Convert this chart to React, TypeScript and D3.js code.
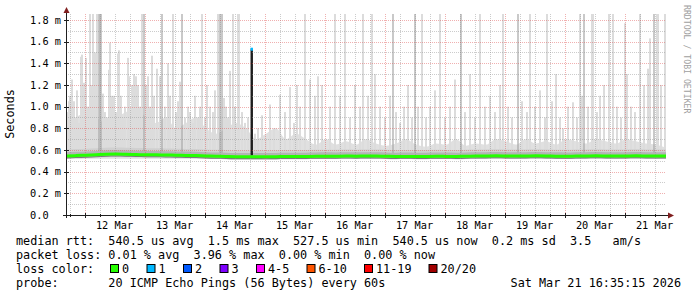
import React from "react";
import * as d3 from "d3";

// ---- data ----
const startTime = new Date(2026, 2, 11, 16, 35, 15);
const endTime = new Date(2026, 2, 21, 16, 35, 15);

const dayLabels = ["12 Mar", "13 Mar", "14 Mar", "15 Mar", "16 Mar", "17 Mar", "18 Mar", "19 Mar", "20 Mar", "21 Mar"];
const yTicks = [0, 0.2, 0.4, 0.6, 0.8, 1.0, 1.2, 1.4, 1.6, 1.8];
const yTickLabels = ["0.0", "0.2 m", "0.4 m", "0.6 m", "0.8 m", "1.0 m", "1.2 m", "1.4 m", "1.6 m", "1.8 m"];

// light smoke envelope (max ping, ms), every 4 hours from graph start
const envelopeMax = [
  0.85, 0.9, 0.95, 0.9, 0.85, 0.9, 0.95, 1.0, 0.9, 0.85, 0.9, 0.8, 0.85, 0.9, 0.8, 0.75, 0.8, 0.85, 0.8,
  0.7, 0.75, 0.8, 0.7, 0.75, 0.7, 0.65, 0.7, 0.65, 0.68, 0.65, 0.7, 0.66, 0.64, 0.66, 0.7, 0.65, 0.63, 0.66,
  0.65, 0.7, 0.64, 0.66, 0.65, 0.7, 0.68, 0.65, 0.7, 0.66, 0.68, 0.65, 0.7, 0.68, 0.66, 0.7, 0.68, 0.66, 0.7,
  0.68, 0.66, 0.65, 0.62,
];

// light smoke spikes: [hours since start, max rtt ms]
const lightSpikes: [number, number][] = [
  [0.4, 0.95], [1.2, 1.05], [1.6, 1.1], [2.4, 1.25], [3.2, 1.05], [4.0, 0.9], [4.4, 1.15], [5.2, 0.85], [6.0, 1.46], [6.4, 1.48],
  [7.2, 1.22], [8.0, 1.45], [8.8, 1.0], [9.6, 1.86], [10.0, 1.2], [10.8, 1.86], [11.6, 1.5], [12.4, 1.86], [13.6, 1.86], [14.8, 1.12],
  [15.6, 0.95], [16.4, 0.9], [17.2, 1.34], [17.6, 1.59], [18.4, 1.1], [19.2, 1.1], [20.0, 0.95], [20.8, 1.49], [21.2, 1.52], [22.0, 1.1],
  [22.8, 0.9], [23.6, 1.0], [24.8, 1.45], [25.2, 1.28], [26.4, 1.2], [27.2, 1.3], [28.0, 1.28], [28.8, 1.2], [29.6, 1.0], [30.4, 1.86],
  [32.0, 1.2], [32.8, 1.28], [33.6, 1.0], [34.4, 1.47], [35.2, 1.1], [36.4, 1.35], [37.6, 1.28], [39.6, 1.0], [40.8, 1.4], [41.6, 1.1],
  [42.8, 1.86], [44.0, 0.95], [44.8, 1.05], [45.6, 1.23], [47.6, 0.9], [48.8, 1.0], [49.6, 0.95], [50.8, 0.85], [51.6, 1.1], [52.8, 0.9],
  [53.6, 1.0], [54.4, 1.86], [55.6, 0.9], [56.4, 1.2], [57.6, 1.0], [58.8, 0.95], [59.6, 1.15], [60.8, 1.86], [63.2, 1.08], [64.0, 1.0],
  [64.8, 0.9], [65.6, 1.33], [66.8, 1.86], [67.6, 1.0], [68.8, 1.86], [69.2, 1.86], [70.4, 0.95], [71.6, 0.85], [72.8, 0.9],
  [75.6, 0.75], [76.8, 0.8], [78.4, 0.92], [80.0, 0.7], [81.6, 1.02], [83.2, 0.8], [85.6, 1.11], [87.6, 0.95], [89.6, 1.18], [91.2, 0.85],
  [92.4, 1.2], [93.6, 1.0], [95.6, 1.86], [97.6, 1.25], [99.6, 1.1], [100.8, 1.28], [102.4, 1.2], [105.6, 1.0], [107.6, 1.86], [109.6, 1.1],
  [111.6, 1.86], [113.6, 0.9], [115.6, 1.2], [117.6, 1.0], [118.8, 1.86], [120.8, 1.1], [122.4, 1.86], [123.6, 1.3], [125.6, 1.0], [127.6, 0.9],
  [129.6, 1.1], [132.0, 0.95], [133.6, 0.85], [135.2, 1.0], [136.8, 1.2], [138.4, 0.9], [140.8, 1.0], [142.4, 1.86], [144.0, 0.9], [145.6, 1.0],
  [147.6, 1.15], [149.6, 1.86], [151.6, 0.9], [153.6, 1.0], [155.6, 1.25], [159.6, 0.95], [161.6, 1.3], [163.6, 0.9], [165.6, 1.86], [167.6, 1.0],
  [169.6, 1.1], [171.6, 0.95], [173.6, 1.2], [174.8, 1.86], [176.8, 1.0], [178.4, 0.9], [182.4, 1.05], [184.4, 0.95], [185.6, 1.86], [187.6, 1.0],
  [189.6, 1.15], [191.6, 0.9], [192.4, 1.86], [194.4, 1.05], [196.0, 1.3], [197.6, 0.9], [198.8, 0.8], [200.8, 1.0], [202.8, 1.04], [204.4, 0.9],
  [205.6, 1.86], [206.4, 1.1], [208.8, 1.0], [210.4, 1.86], [210.8, 1.86], [212.4, 0.95], [213.6, 1.1], [215.2, 1.2], [217.2, 1.86], [218.8, 1.86],
  [220.4, 1.0], [222.0, 0.9], [223.6, 1.77], [224.4, 1.3], [226.0, 1.0], [227.6, 0.95], [229.6, 1.86], [231.2, 1.2], [232.8, 1.35], [233.6, 1.63],
  [236.4, 1.86], [236.8, 1.86], [238.0, 1.2], [239.6, 1.86],
];

// darker smoke spikes (many pings high)
const darkSpikes: [number, number][] = [
  [13.2, 1.86], [14.0, 1.86], [31.2, 1.86], [38.4, 1.86], [46.4, 1.86], [61.6, 1.86], [62.4, 1.86],
  [130.8, 1.86], [139.6, 1.86], [158.0, 1.86], [180.8, 1.86], [207.2, 1.86], [235.2, 1.86],
];

// all-pings-high event (median jumped, 1 packet lost)
const blackSpike: [number, number] = [74.3, 1.53];

// median rtt (ms), every 4 hours
const medianRtt = [
  0.545, 0.548, 0.552, 0.556, 0.56, 0.562, 0.56, 0.558, 0.556, 0.555, 0.554, 0.552, 0.55, 0.548, 0.545, 0.542,
  0.54, 0.538, 0.538, 0.538, 0.537, 0.538, 0.54, 0.539, 0.54, 0.542, 0.543, 0.542, 0.544, 0.543, 0.545, 0.544,
  0.542, 0.54, 0.541, 0.539, 0.54, 0.542, 0.541, 0.54, 0.542, 0.544, 0.545, 0.546, 0.545, 0.544, 0.545, 0.546,
  0.545, 0.543, 0.542, 0.544, 0.545, 0.546, 0.545, 0.544, 0.545, 0.546, 0.545, 0.544, 0.545,
];

const lossLabels = ["0", "1", "2", "3", "4-5", "6-10", "11-19", "20/20"];
const lossColors = ["#26ff00", "#00b8ff", "#0059ff", "#7e00ff", "#ff00ff", "#ff5500", "#ff0000", "#a10000"];

const legendLines = [
  "median rtt:  540.5 us avg  1.5 ms max  527.5 us min  540.5 us now  0.2 ms sd  3.5   am/s",
  "packet loss: 0.01 % avg  3.96 % max  0.00 % min  0.00 % now",
];
const probeText = "probe:       20 ICMP Echo Pings (56 Bytes) every 60s";
const dateText = "Sat Mar 21 16:35:15 2026";

// ---- layout ----
const W = 697;
const H = 297;
const X0 = 66;
const X1 = 666;
const Y0 = 215;
const YTOP = 14;
const MONO = "'DejaVu Sans Mono', 'Liberation Mono', monospace";

export default function App() {
  const x = d3.scaleTime().domain([startTime, endTime]).range([X0, X1]);
  const y = d3.scaleLinear().domain([0, 1.855]).range([Y0, YTOP]);
  const hx = (h: number) => x(new Date(startTime.getTime() + h * 3600e3));

  const envArea = d3
    .area<number>()
    .x((_, i) => hx(i * 4))
    .y0(y(0.52))
    .y1((d) => y(d))
    .curve(d3.curveMonotoneX);

  const medLine = d3
    .line<number>()
    .x((_, i) => hx(i * 4))
    .y((d) => y(d))
    .curve(d3.curveMonotoneX);

  const bandArea = (lo: number, hi: number) =>
    d3
      .area<number>()
      .x((_, i) => hx(i * 4))
      .y0((d) => y(d - (0.545 - lo)))
      .y1((d) => y(d + (hi - 0.545)))
      .curve(d3.curveMonotoneX)(medianRtt) as string;

  const days = d3.timeDay.range(d3.timeDay.ceil(startTime), endTime);
  const sixHours = d3.timeHour.every(6)!.range(startTime, endTime).filter((t) => t.getHours() !== 0);
  const minorY = d3.range(0.1, 1.8, 0.2);

  const lossBoxX = [111, 147.5, 184, 220.5, 257, 307.5, 365, 429.5];

  return (
    <svg width={W} height={H} style={{ display: "block", position: "absolute", left: 0, top: 0, background: "#fff" }}>
      <defs>
        <clipPath id="plot">
          <rect x={X0} y={YTOP} width={X1 - X0} height={Y0 - YTOP} />
        </clipPath>
      </defs>
      <rect x={0} y={0} width={W} height={H} fill="#fff" />
      <g clipPath="url(#plot)">
        <path d={envArea(envelopeMax) as string} fill="#e0e0e0" />
        {lightSpikes.map(([h, v], i) => (
          <rect key={"l" + i} x={hx(h) - 1} width={2} y={y(v)} height={y(0.55) - y(v)} fill="#dcdcdc" />
        ))}
        <path d={bandArea(0.52, 0.605)} fill="#d0d0d0" />
        {darkSpikes.map(([h, v], i) => (
          <rect key={"d" + i} x={hx(h) - 0.6} width={1.2} y={y(v)} height={y(0.55) - y(v)} fill="#a6a6a6" />
        ))}
        <path d={bandArea(0.525, 0.58)} fill="#b4b4b4" />
        <path d={bandArea(0.522, 0.532)} fill="#7a7a7a" />
        <rect x={hx(blackSpike[0]) - 1.2} width={2.4} y={y(blackSpike[1])} height={y(0.55) - y(blackSpike[1])} fill="#1e1e1e" />
      </g>
      {/* grid */}
      <g fill="none" strokeWidth={1} strokeDasharray="1,1">
        {minorY.map((v, i) => (
          <line key={"hy" + i} x1={X0} x2={X1} y1={Math.round(y(v)) + 0.5} y2={Math.round(y(v)) + 0.5} stroke="#8f8f8f" strokeOpacity={0.45} />
        ))}
        {sixHours.map((t, i) => (
          <line key={"vx" + i} x1={Math.round(x(t)) + 0.5} x2={Math.round(x(t)) + 0.5} y1={YTOP} y2={Y0} stroke="#8f8f8f" strokeOpacity={0.45} />
        ))}
        {yTicks.slice(1).map((v, i) => (
          <line key={"my" + i} x1={X0} x2={X1} y1={Math.round(y(v)) + 0.5} y2={Math.round(y(v)) + 0.5} stroke="#de4f4f" strokeOpacity={0.45} />
        ))}
        {days.map((t, i) => (
          <line key={"mx" + i} x1={Math.round(x(t)) + 0.5} x2={Math.round(x(t)) + 0.5} y1={YTOP} y2={Y0} stroke="#de4f4f" strokeOpacity={0.45} />
        ))}
      </g>
      {/* median */}
      <path d={medLine(medianRtt) as string} fill="none" stroke={lossColors[0]} strokeWidth={3} />
      <rect x={hx(blackSpike[0]) - 1.2} width={2.4} y={y(blackSpike[1]) - 1.5} height={3} fill={lossColors[1]} />
      {/* axes */}
      <line x1={63} x2={669} y1={Y0 + 0.5} y2={Y0 + 0.5} stroke="#1f1f1f" strokeWidth={1} />
      <line x1={X0 + 0.5} x2={X0 + 0.5} y1={Y0 + 3} y2={11} stroke="#1f1f1f" strokeWidth={1} />
      {days.map((t, i) => (
        <line key={"tk" + i} x1={Math.round(x(t)) + 0.5} x2={Math.round(x(t)) + 0.5} y1={Y0 - 2} y2={Y0 + 3} stroke="#1f1f1f" />
      ))}
      {sixHours.map((t, i) => (
        <line key={"tm" + i} x1={Math.round(x(t)) + 0.5} x2={Math.round(x(t)) + 0.5} y1={Y0 - 1} y2={Y0 + 2} stroke="#1f1f1f" />
      ))}
      {yTicks.map((v, i) => (
        <line key={"ty" + i} x1={X0 - 2} x2={X0 + 3} y1={Math.round(y(v)) + 0.5} y2={Math.round(y(v)) + 0.5} stroke="#1f1f1f" />
      ))}
      <path d={`M${X0 + 0.5},7 L${X0 + 3.5},13 L${X0 - 2.5},13 Z`} fill="#801f1f" />
      <path d={`M674,${Y0 + 0.5} L668,${Y0 - 2.5} L668,${Y0 + 3.5} Z`} fill="#801f1f" />
      {/* tick labels */}
      <g fontFamily={MONO} fontSize={10.3} fill="#000">
        {yTicks.map((v, i) => (
          <text key={"yl" + i} x={30} y={y(v) + 3.8} textAnchor="start">
            {yTickLabels[i]}
          </text>
        ))}
        {days.map((t, i) => (
          <text key={"xl" + i} x={x(d3.timeHour.offset(t, 12))} y={228.5} textAnchor="middle">
            {dayLabels[i]}
          </text>
        ))}
      </g>
      <text transform="translate(14,114) rotate(-90)" fontFamily={MONO} fontSize={11.8} textAnchor="middle" fill="#000">
        Seconds
      </text>
      <text transform="translate(684,5) rotate(90)" fontFamily={MONO} fontSize={8.2} fill="#a0a0a0">
        RRDTOOL / TOBI OETIKER
      </text>
      {/* legend */}
      <g fontFamily={MONO} fontSize={11.8} fill="#000" style={{ whiteSpace: "pre" }}>
        {legendLines.map((s, i) => (
          <text key={"lg" + i} x={16} y={244.5 + i * 14.2} xmlSpace="preserve">
            {s}
          </text>
        ))}
        <text x={16} y={272.9}>loss color:</text>
        {lossLabels.map((l, i) => (
          <g key={"lc" + i}>
            <rect x={lossBoxX[i] - 0.5} y={264.5} width={8} height={8} fill={lossColors[i]} stroke="#000" strokeWidth={1} />
            <text x={lossBoxX[i] + 11} y={272.9}>
              {l}
            </text>
          </g>
        ))}
        <text x={16} y={287.1} xmlSpace="preserve">
          {probeText}
        </text>
        <text x={681} y={287.1} textAnchor="end">
          {dateText}
        </text>
      </g>
    </svg>
  );
}
